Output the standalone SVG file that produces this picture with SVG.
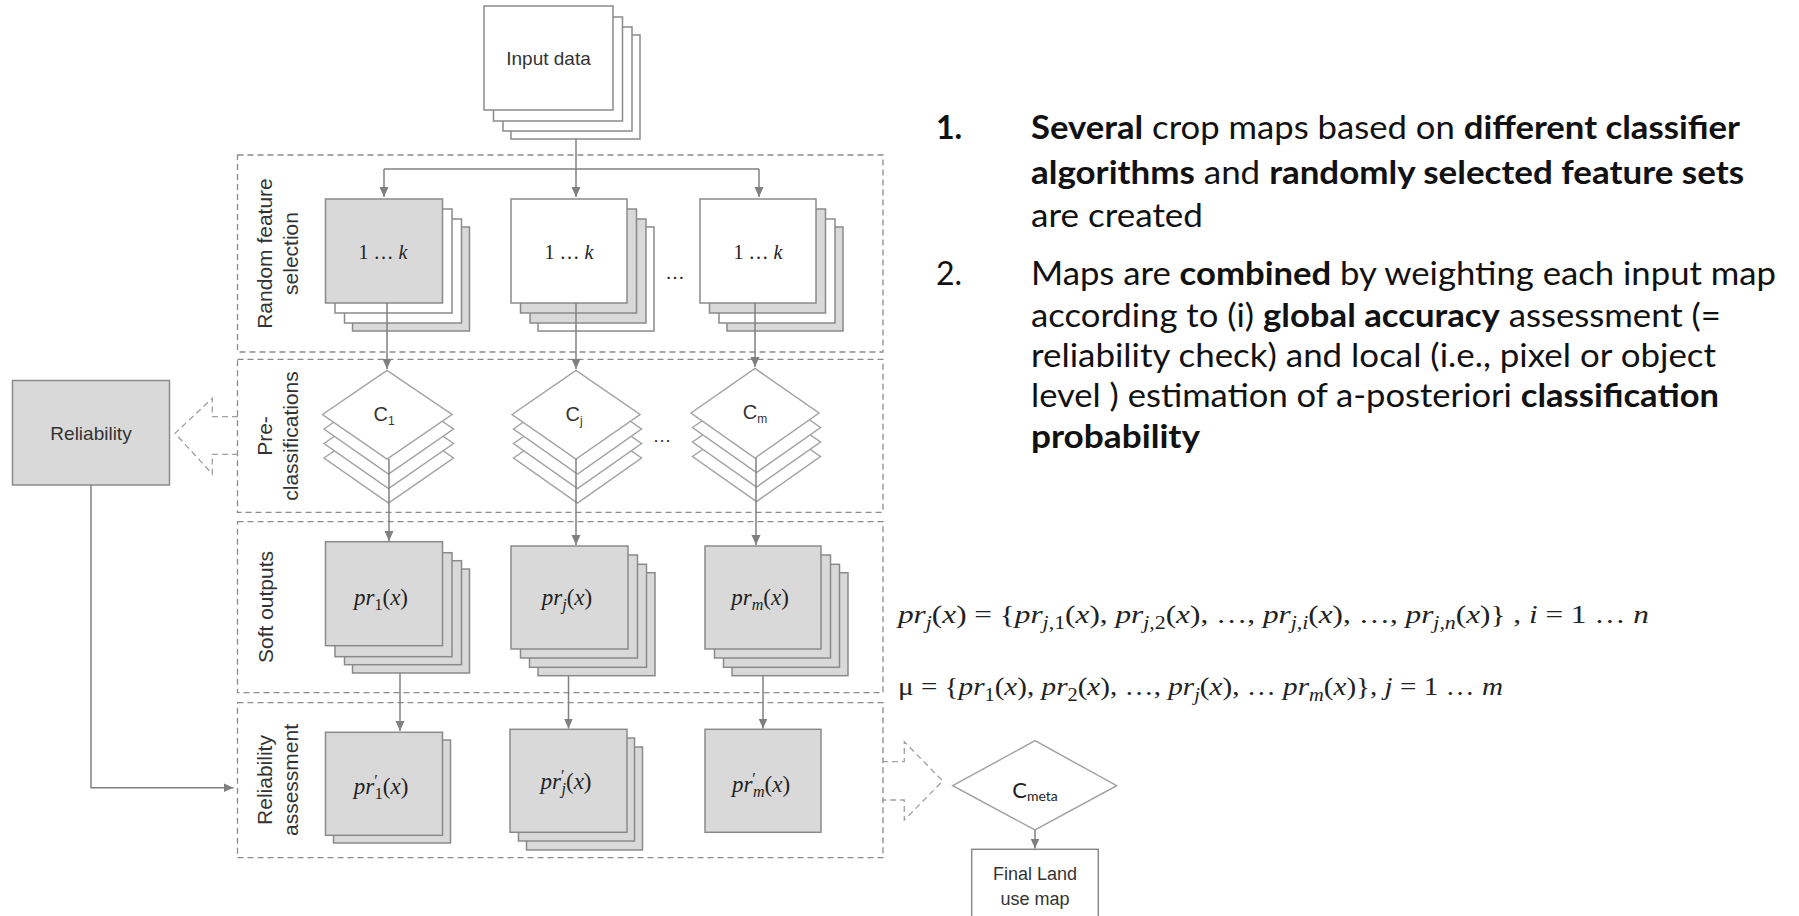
<svg xmlns="http://www.w3.org/2000/svg" width="1799" height="916" viewBox="0 0 1799 916">
<style>
.g{fill:#d9d9d9;stroke:#8a8a8a;stroke-width:1.5}
.w{fill:#fff;stroke:#8a8a8a;stroke-width:1.5}
.dia{fill:#fff;stroke:#a3a3a3;stroke-width:1.5}
.dash{fill:none;stroke:#8c8c8c;stroke-width:1.3;stroke-dasharray:6 4}
.hol{fill:none;stroke:#a0a0a0;stroke-width:1.3;stroke-dasharray:6 4}
.conn{fill:none;stroke:#808080;stroke-width:1.5}
.s{font-family:"Liberation Sans",Arial,sans-serif;fill:#333}
.lbl{font-family:"Liberation Sans",Arial,sans-serif;font-size:21px;fill:#333}
.m{font-family:"Liberation Serif","Times New Roman",serif;fill:#222}
.v{font-style:italic}
.sb{font-size:70%}
.t{font-family:Lato,"Noto Sans",sans-serif;font-size:32px;fill:#111}
.b{font-weight:bold}
</style>
<defs>
<marker id="ah" markerUnits="userSpaceOnUse" markerWidth="10" markerHeight="10" refX="10" refY="4.5" orient="auto">
<path d="M0,0 L10,4.5 L0,9 z" fill="#808080"/>
</marker>
</defs>

<!-- dashed stage boxes -->
<g id="stages">
<rect class="dash" x="237.5" y="155" width="645.5" height="197"/>
<rect class="dash" x="237.5" y="359.3" width="645.5" height="153"/>
<rect class="dash" x="237.5" y="521.7" width="645.5" height="171"/>
<rect class="dash" x="237.5" y="702.7" width="645.5" height="155"/>
<text class="lbl" transform="translate(272,253.5) rotate(-90)" text-anchor="middle">Random feature</text>
<text class="lbl" transform="translate(298,253.5) rotate(-90)" text-anchor="middle">selection</text>
<text class="lbl" transform="translate(272,436) rotate(-90)" text-anchor="middle">Pre-</text>
<text class="lbl" transform="translate(298,436) rotate(-90)" text-anchor="middle">classifications</text>
<text class="lbl" transform="translate(273,607) rotate(-90)" text-anchor="middle">Soft outputs</text>
<text class="lbl" transform="translate(272,780) rotate(-90)" text-anchor="middle">Reliability</text>
<text class="lbl" transform="translate(298,780) rotate(-90)" text-anchor="middle">assessment</text>
</g>

<g id="input">
<rect class="w" x="511" y="35" width="129" height="104"/>
<rect class="w" x="503" y="27" width="129" height="104"/>
<rect class="w" x="493.5" y="17" width="129" height="104"/>
<rect class="w" x="484" y="6" width="129" height="104"/>
<text class="s" x="548.5" y="65" font-size="19" text-anchor="middle">Input data</text>
</g>

<g id="rfs1">
<rect class="g" x="352.5" y="227" width="117" height="104"/>
<rect class="w" x="344.5" y="219" width="117" height="104"/>
<rect class="w" x="335" y="209" width="117" height="104"/>
<rect class="g" x="325.5" y="199" width="117" height="104"/>
<text class="m" x="383" y="259" font-size="20" text-anchor="middle">1 … <tspan class="v">k</tspan></text>
</g>
<g id="rfs2">
<rect class="w" x="538" y="227" width="116" height="104"/>
<rect class="g" x="530" y="219" width="116" height="104"/>
<rect class="g" x="520.5" y="209" width="116" height="104"/>
<rect class="w" x="511" y="199" width="116" height="104"/>
<text class="m" x="569" y="259" font-size="20" text-anchor="middle">1 … <tspan class="v">k</tspan></text>
</g>
<g id="rfs3">
<rect class="g" x="727" y="227" width="116" height="104"/>
<rect class="w" x="719" y="219" width="116" height="104"/>
<rect class="g" x="709.5" y="209" width="116" height="104"/>
<rect class="w" x="700" y="199" width="116" height="104"/>
<text class="m" x="758" y="259" font-size="20" text-anchor="middle">1 … <tspan class="v">k</tspan></text>
</g>
<text class="m" x="675" y="279" font-size="19" text-anchor="middle" fill="#333">…</text>

<g id="c1">
<polygon class="dia" points="324,458 388.5,413.5 453.5,458 388.5,503"/>
<polygon class="dia" points="324,443.5 388.5,399 453.5,443.5 388.5,488.5"/>
<polygon class="dia" points="324,429 388.5,384.5 453.5,429 388.5,474"/>
<polygon class="dia" points="322.5,414.5 387,370.5 452,414.5 387,459"/>
<text class="s" x="384" y="421" font-size="20" text-anchor="middle">C<tspan font-size="12" dy="4">1</tspan></text>
</g>
<g id="cj">
<polygon class="dia" points="513.5,458 577.5,413.5 641.5,458 577.5,503"/>
<polygon class="dia" points="513.5,443.5 577.5,399 641.5,443.5 577.5,488.5"/>
<polygon class="dia" points="513.5,429 577.5,384.5 641.5,429 577.5,474"/>
<polygon class="dia" points="512,414.5 576,370.5 640,414.5 576,459"/>
<text class="s" x="574" y="421" font-size="20" text-anchor="middle">C<tspan font-size="12" dy="4">j</tspan></text>
</g>
<g id="cm">
<polygon class="dia" points="692.5,456.5 756.5,412 820.5,456.5 756.5,501.5"/>
<polygon class="dia" points="692.5,442 756.5,397.5 820.5,442 756.5,487"/>
<polygon class="dia" points="692.5,427.5 756.5,383 820.5,427.5 756.5,472.5"/>
<polygon class="dia" points="691,413 755,368.5 819,413 755,458"/>
<text class="s" x="755" y="419" font-size="20" text-anchor="middle">C<tspan font-size="12" dy="4">m</tspan></text>
</g>
<text class="s" x="662" y="442" font-size="19" text-anchor="middle">…</text>

<g id="so1">
<rect class="g" x="352.5" y="569" width="117" height="104"/>
<rect class="g" x="344.5" y="560.7" width="117" height="104"/>
<rect class="g" x="335" y="552.7" width="117" height="104"/>
<rect class="g" x="325.5" y="541.7" width="117" height="104"/>
<text class="m" x="381" y="605" font-size="23" text-anchor="middle"><tspan class="v">pr</tspan><tspan class="sb" dy="5">1</tspan><tspan dy="-5">(</tspan><tspan class="v">x</tspan>)</text>
</g>
<g id="so2">
<rect class="g" x="538" y="572.7" width="117" height="103"/>
<rect class="g" x="529.5" y="564.3" width="117" height="103"/>
<rect class="g" x="520.5" y="555" width="117" height="103"/>
<rect class="g" x="511" y="546" width="117" height="103"/>
<text class="m" x="567" y="605" font-size="23" text-anchor="middle"><tspan class="v">pr</tspan><tspan class="sb v" dy="5">j</tspan><tspan dy="-5">(</tspan><tspan class="v">x</tspan>)</text>
</g>
<g id="so3">
<rect class="g" x="732" y="572.7" width="116" height="103"/>
<rect class="g" x="723.5" y="564.3" width="116" height="103"/>
<rect class="g" x="714.5" y="555" width="116" height="103"/>
<rect class="g" x="705" y="546" width="116" height="103"/>
<text class="m" x="760" y="605" font-size="23" text-anchor="middle"><tspan class="v">pr</tspan><tspan class="sb v" dy="5">m</tspan><tspan dy="-5">(</tspan><tspan class="v">x</tspan>)</text>
</g>

<g id="ra1">
<rect class="g" x="333.5" y="740" width="117" height="103"/>
<rect class="g" x="325.5" y="732.3" width="117" height="103"/>
<text class="m" x="381" y="794" font-size="23" text-anchor="middle"><tspan class="v">pr</tspan><tspan class="sb" dy="-8">′</tspan><tspan class="sb" dx="-3" dy="13">1</tspan><tspan dy="-5">(</tspan><tspan class="v">x</tspan>)</text>
</g>
<g id="ra2">
<rect class="g" x="526.5" y="747" width="116" height="103"/>
<rect class="g" x="518.5" y="738" width="116" height="103"/>
<rect class="g" x="510" y="729.3" width="117" height="103"/>
<text class="m" x="566" y="789" font-size="23" text-anchor="middle"><tspan class="v">pr</tspan><tspan class="sb" dy="-8">′</tspan><tspan class="sb v" dx="-3" dy="13">j</tspan><tspan dy="-5">(</tspan><tspan class="v">x</tspan>)</text>
</g>
<g id="ra3">
<rect class="g" x="705" y="729.3" width="116" height="103"/>
<text class="m" x="761" y="792" font-size="23" text-anchor="middle"><tspan class="v">pr</tspan><tspan class="sb" dy="-8">′</tspan><tspan class="sb v" dx="-3" dy="13">m</tspan><tspan dy="-5">(</tspan><tspan class="v">x</tspan>)</text>
</g>

<g id="reliability">
<rect class="g" x="12.5" y="380.5" width="157" height="104.5"/>
<text class="s" x="91" y="440" font-size="19" text-anchor="middle">Reliability</text>
</g>

<g id="cmeta">
<polygon class="dia" points="952.7,785.7 1035,740.7 1116.7,785.7 1035,830"/>
<text x="1035" y="798" font-family="Lato,'Noto Sans',sans-serif" font-size="22" fill="#222" text-anchor="middle">C<tspan font-size="14" dy="3">meta</tspan></text>
</g>

<g id="final">
<rect class="w" x="971.7" y="849.3" width="126.6" height="90"/>
<text class="s" x="1035" y="880" font-size="18" text-anchor="middle">Final Land</text>
<text class="s" x="1035" y="905" font-size="18" text-anchor="middle">use map</text>
</g>

<g id="connectors">
<path class="conn" d="M576,139 V197" marker-end="url(#ah)"/>
<path class="conn" d="M384,169 H759"/>
<path class="conn" d="M384,169 V197" marker-end="url(#ah)"/>
<path class="conn" d="M759,169 V197" marker-end="url(#ah)"/>
<path class="conn" d="M387,303 V369" marker-end="url(#ah)"/>
<path class="conn" d="M576,303 V369" marker-end="url(#ah)"/>
<path class="conn" d="M755,303 V367" marker-end="url(#ah)"/>
<path class="conn" d="M389,459 V541" marker-end="url(#ah)"/>
<path class="conn" d="M576,459 V545" marker-end="url(#ah)"/>
<path class="conn" d="M756,458 V545" marker-end="url(#ah)"/>
<path class="conn" d="M400,673 V731" marker-end="url(#ah)"/>
<path class="conn" d="M568.5,676 V728.5" marker-end="url(#ah)"/>
<path class="conn" d="M763,676 V728.5" marker-end="url(#ah)"/>
<path class="conn" d="M91,485 V787.7 H233.5" marker-end="url(#ah)"/>
<path class="conn" d="M1035,830 V848.5" marker-end="url(#ah)"/>
<path class="hol" d="M238,416.7 H212.3 V398.3 L175,433.3 L212.3,474 V454.3 H238"/>
<path class="hol" d="M882,761.7 H904.3 V741.7 L942.7,781 L904.3,820 V800 H882"/>
</g>

<g id="notes">
<text class="t b" x="936" y="139">1.</text>
<text class="t" x="1031" y="139" textLength="709" lengthAdjust="spacingAndGlyphs"><tspan class="b">Several</tspan> crop maps based on <tspan class="b">different classifier</tspan></text>
<text class="t" x="1031" y="183.5" textLength="713" lengthAdjust="spacingAndGlyphs"><tspan class="b">algorithms</tspan> and <tspan class="b">randomly selected feature sets</tspan></text>
<text class="t" x="1031" y="227" textLength="172" lengthAdjust="spacingAndGlyphs">are created</text>
<text class="t" x="936" y="285">2.</text>
<text class="t" x="1031" y="285" textLength="745" lengthAdjust="spacingAndGlyphs">Maps are <tspan class="b">combined</tspan> by weighting each input map</text>
<text class="t" x="1031" y="326.5" textLength="690" lengthAdjust="spacingAndGlyphs">according to (i) <tspan class="b">global accuracy</tspan> assessment (=</text>
<text class="t" x="1031" y="367" textLength="685" lengthAdjust="spacingAndGlyphs">reliability check) and local (i.e., pixel or object</text>
<text class="t" x="1031" y="407" textLength="688" lengthAdjust="spacingAndGlyphs">level ) estimation of a-posteriori <tspan class="b">classification</tspan></text>
<text class="t b" x="1031" y="447.5" textLength="169" lengthAdjust="spacingAndGlyphs">probability</text>
</g>

<g id="formulas">
<text class="m" x="898" y="623" font-size="26" textLength="751" lengthAdjust="spacingAndGlyphs"><tspan class="v">pr</tspan><tspan class="sb v" dy="6">j</tspan><tspan dy="-6">(</tspan><tspan class="v">x</tspan>) = {<tspan class="v">pr</tspan><tspan class="sb" dy="6"><tspan class="v">j</tspan>,1</tspan><tspan dy="-6">(</tspan><tspan class="v">x</tspan>), <tspan class="v">pr</tspan><tspan class="sb" dy="6"><tspan class="v">j</tspan>,2</tspan><tspan dy="-6">(</tspan><tspan class="v">x</tspan>), …, <tspan class="v">pr</tspan><tspan class="sb" dy="6"><tspan class="v">j</tspan>,<tspan class="v">i</tspan></tspan><tspan dy="-6">(</tspan><tspan class="v">x</tspan>), …, <tspan class="v">pr</tspan><tspan class="sb" dy="6"><tspan class="v">j</tspan>,<tspan class="v">n</tspan></tspan><tspan dy="-6">(</tspan><tspan class="v">x</tspan>)} , <tspan class="v">i</tspan> = 1 … <tspan class="v">n</tspan></text>
<text class="m" x="898" y="695" font-size="26" textLength="605" lengthAdjust="spacingAndGlyphs">μ = {<tspan class="v">pr</tspan><tspan class="sb" dy="6">1</tspan><tspan dy="-6">(</tspan><tspan class="v">x</tspan>), <tspan class="v">pr</tspan><tspan class="sb" dy="6">2</tspan><tspan dy="-6">(</tspan><tspan class="v">x</tspan>), …, <tspan class="v">pr</tspan><tspan class="sb v" dy="6">j</tspan><tspan dy="-6">(</tspan><tspan class="v">x</tspan>), … <tspan class="v">pr</tspan><tspan class="sb v" dy="6">m</tspan><tspan dy="-6">(</tspan><tspan class="v">x</tspan>)}, <tspan class="v">j</tspan> = 1 … <tspan class="v">m</tspan></text>
</g>
</svg>
